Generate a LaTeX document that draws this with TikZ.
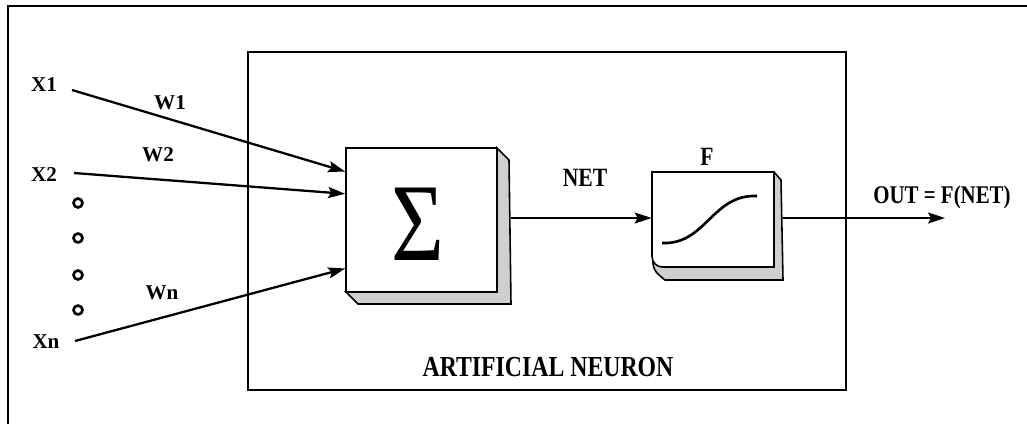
\documentclass[tikz,border=0pt]{standalone}
\usepackage{fontspec}
\setmainfont{Liberation Serif}
\newfontfamily\narrowserif[FakeStretch=0.82]{Liberation Serif}
\usetikzlibrary{arrows.meta,calc}

\tikzset{
  wire/.style={line width=1.3pt,-{Stealth[length=0.34cm,width=0.22cm,inset=0.06cm]}},
  face/.style={draw,line width=0.9pt,fill=white,inner sep=0pt},
  bevel/.style={draw,line width=0.9pt,fill=gray!38},
  inlabel/.style={font=\bfseries\fontsize{12}{12}\selectfont},
  boldlabel/.style={font=\narrowserif\bfseries\fontsize{15}{15}\selectfont},
  dot/.style={draw,circle,line width=1.5pt,minimum size=0.18cm,inner sep=0pt}
}

\begin{document}
\begin{tikzpicture}[x=0.02cm,y=-0.02cm]
  \useasboundingbox (0,0) rectangle (1027,424);

  % outer frame (open to the right and bottom)
  \draw[line width=1pt] (8,424) -- (8,6) -- (1027,6);

  % neuron enclosure
  \node[draw,line width=0.9pt,minimum width=11.96cm,minimum height=6.76cm,inner sep=0pt]
    (neuron) at (547,221) {};
  \node[boldlabel,font=\narrowserif\bfseries\fontsize{16.5}{16.5}\selectfont]
    (neuronlabel) at (548,367) {ARTIFICIAL NEURON};

  % summation block with bevel
  \draw[bevel] (497,148) -- (509,160) -- (511,304) -- (358,304) -- (346,292) -- (497,292) -- cycle;
  \node[face,minimum width=3.02cm,minimum height=2.88cm] (sum) at (421.5,220) {};
  \node[font=\narrowserif\fontsize{63}{63}\selectfont] (sigma) at (418,224) {Σ};

  % activation block with bevel
  \draw[bevel] (774,172) -- (781,180) -- (783,280) -- (665,280)
    [rounded corners=4pt] -- (653,270) [rounded corners=0pt] -- (653,262) -- cycle;
  \draw[face] (652,172) -- (774,172) -- (774,267)
    [rounded corners=6pt] -- (652,267) [rounded corners=0pt] -- cycle;
  \node[minimum width=2.44cm,minimum height=1.9cm,inner sep=0pt] (act) at (713,219.5) {};
  \draw[line width=1.5pt] (662,243) .. controls (706,245) and (712,194) .. (757,196);
  \node[boldlabel] (flabel) at (707,157) {F};

  % inputs
  \node[inlabel] (x1) at (44,85) {X1};
  \node[inlabel] (x2) at (44,175) {X2};
  \node[inlabel] (xn) at (46,342) {Xn};
  \foreach \yy [count=\k] in {203,238,275,310}
    \node[dot] (gap\k) at (78,\yy) {};

  \coordinate (s1) at (72,90);
  \coordinate (s2) at (74,173);
  \coordinate (sn) at (75,341);
  \coordinate (in1) at ($(sum.north west)!0.167!(sum.south west)$);
  \coordinate (in2) at ($(sum.north west)!0.32!(sum.south west)$);
  \coordinate (inn) at ($(sum.north west)!0.833!(sum.south west)$);

  \draw[wire] (s1) -- (in1);
  \draw[wire] (s2) -- (in2);
  \draw[wire] (sn) -- (inn);

  \node[inlabel] (w1) at (170,103) {W1};
  \node[inlabel] (w2) at (158,155) {W2};
  \node[inlabel] (wn) at (162,293) {Wn};

  % net signal to the activation block
  \draw[wire,line width=1pt] (511,218) -- (act.west |- 0,218);
  \node[boldlabel] (netlabel) at (585,178) {NET};

  % output
  \coordinate (outend) at (945,218);
  \draw[wire,line width=1pt] (783,218) -- (outend);
  \node[boldlabel,font=\narrowserif\bfseries\fontsize{14.5}{14.5}\selectfont]
    (outlabel) at (942,197) {OUT = F(NET)};
\end{tikzpicture}
\end{document}
